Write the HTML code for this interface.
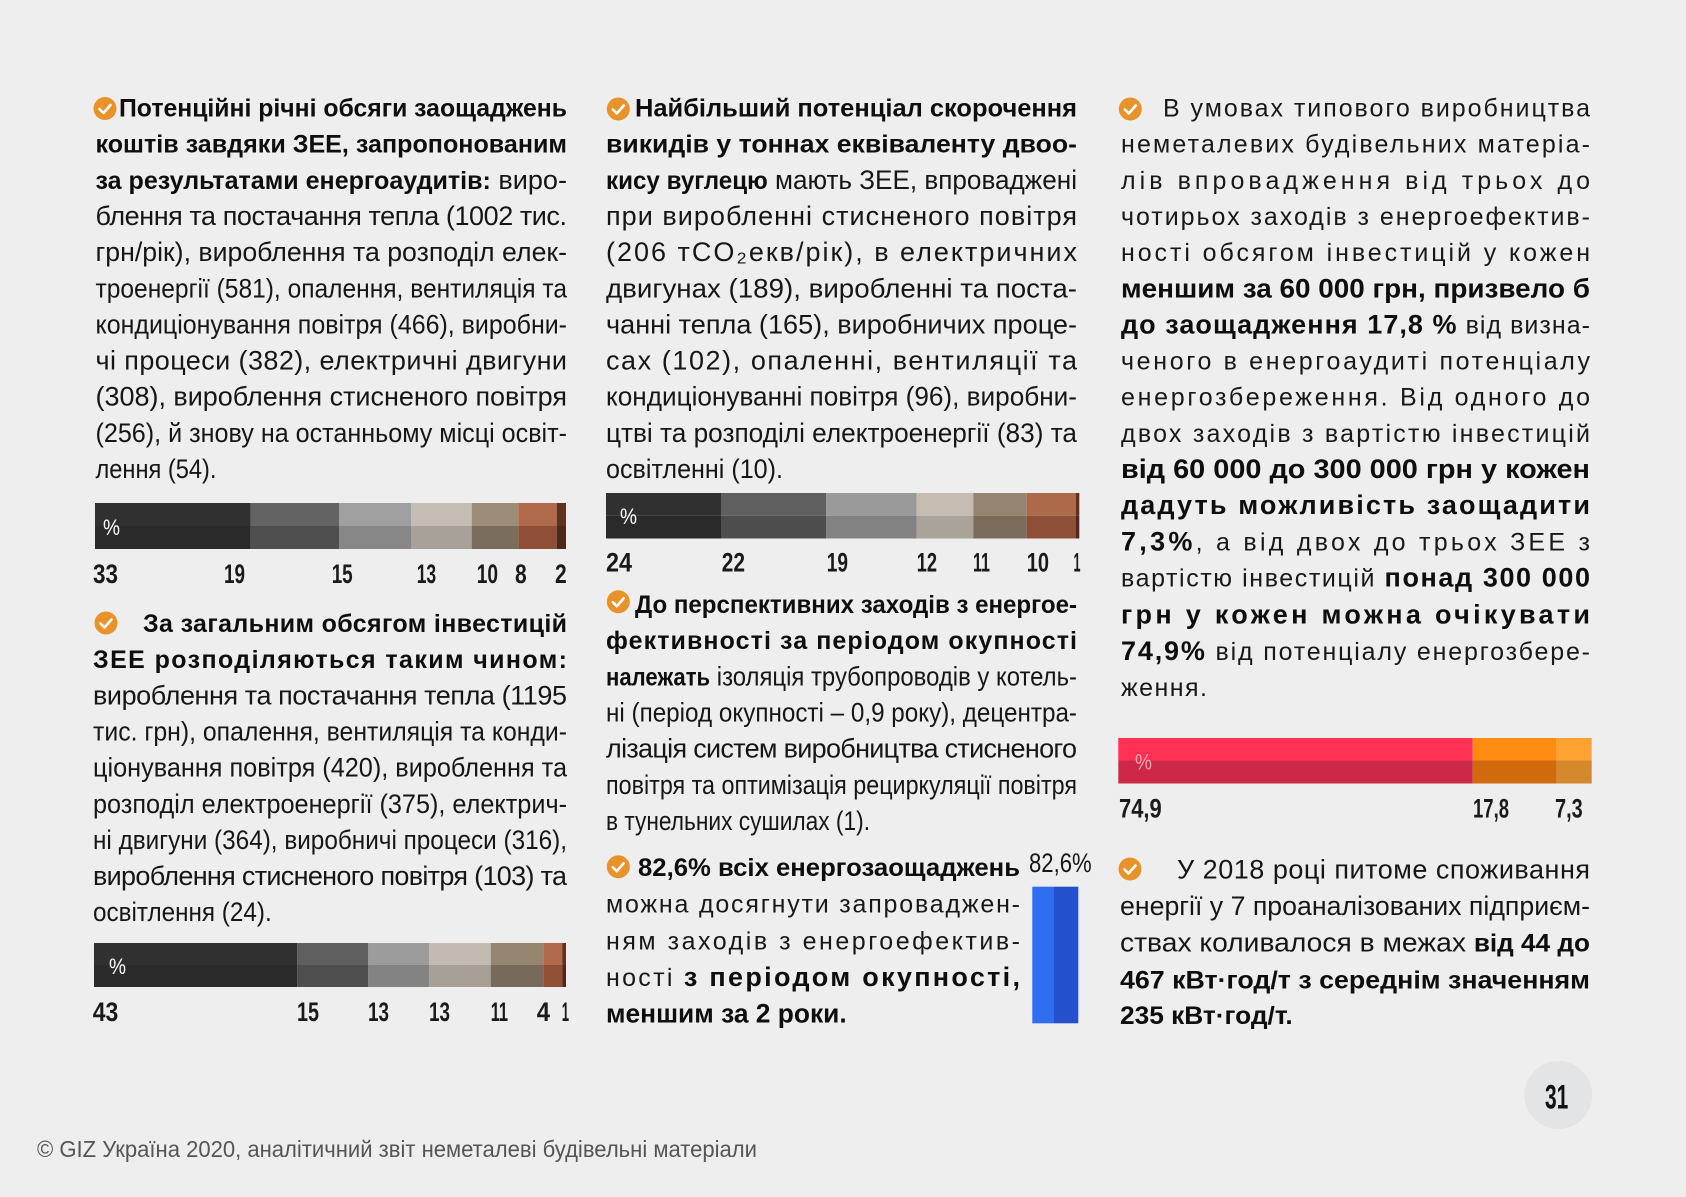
<!DOCTYPE html>
<html>
<head>
<meta charset="utf-8">
<style>
  html,body{margin:0;padding:0;background:#eeeeee;}
  svg{display:block;}
  text{font-family:"Liberation Sans",sans-serif;}
  .r{font-size:27px;fill:#161616;}
  .b{font-size:25px;font-weight:bold;fill:#0e0e0e;}
  .w{font-size:25px;fill:#181818;}
  .wb{font-size:27px;font-weight:bold;fill:#0e0e0e;}
  .lb{font-size:27px;font-weight:bold;fill:#1a1a1a;}
  .pc{font-size:22px;fill:#ffffff;}
  .ft{font-size:23px;fill:#555;}
</style>
</head>
<body>
<svg width="1686" height="1197" viewBox="0 0 1686 1197" xmlns="http://www.w3.org/2000/svg">
<rect x="0" y="0" width="1686" height="1197" fill="#eeeeee"/>

<defs>
  <g id="ic">
    <circle cx="0" cy="0" r="11.5" fill="#e8922a"/>
    <path d="M-5.5 0.5 L-1.5 4.5 L5.5 -3.5" fill="none" stroke="#ffffff" stroke-width="2.6" stroke-linecap="round" stroke-linejoin="round"/>
  </g>
</defs>

<!-- ============ COLUMN 1 ============ -->
<use href="#ic" x="105" y="108.5"/>
<text class="b" x="119" y="116.5" textLength="448" lengthAdjust="spacingAndGlyphs">Потенційні річні обсяги заощаджень</text>
<text class="b" x="95.5" y="152.65" textLength="471.5" lengthAdjust="spacingAndGlyphs">коштів завдяки ЗЕЕ, запропонованим</text>
<text class="r" x="95.5" y="188.8" textLength="471.5" lengthAdjust="spacingAndGlyphs"><tspan class="b">за результатами енергоаудитів:</tspan> виро-</text>
<text class="r" x="95.5" y="224.95" textLength="471.5" lengthAdjust="spacing">блення та постачання тепла (1002 тис.</text>
<text class="r" x="95.5" y="261.1" textLength="471.5" lengthAdjust="spacingAndGlyphs">грн/рік), вироблення та розподіл елек-</text>
<text class="r" x="95.5" y="297.25" textLength="471.5" lengthAdjust="spacingAndGlyphs">троенергії (581), опалення, вентиляція та</text>
<text class="r" x="95.5" y="333.4" textLength="471.5" lengthAdjust="spacingAndGlyphs">кондиціонування повітря (466), виробни-</text>
<text class="r" x="95.5" y="369.55" textLength="471.5" lengthAdjust="spacing">чі процеси (382), електричні двигуни</text>
<text class="r" x="95.5" y="405.7" textLength="471.5" lengthAdjust="spacing">(308), вироблення стисненого повітря</text>
<text class="r" x="95.5" y="441.85" textLength="471.5" lengthAdjust="spacingAndGlyphs">(256), й знову на останньому місці освіт-</text>
<text class="r" x="95.5" y="478" textLength="121" lengthAdjust="spacingAndGlyphs">лення (54).</text>

<!-- bar 1 -->
<g>
  <rect x="95" y="503" width="155.7" height="23" fill="#303030"/><rect x="95" y="526" width="155.7" height="23" fill="#2a2a2a"/>
  <rect x="250.7" y="503" width="88.6" height="23" fill="#636363"/><rect x="250.7" y="526" width="88.6" height="23" fill="#4f4f4f"/>
  <rect x="339.3" y="503" width="71.7" height="23" fill="#a0a0a0"/><rect x="339.3" y="526" width="71.7" height="23" fill="#878787"/>
  <rect x="411" y="503" width="60.7" height="23" fill="#c5bdb3"/><rect x="411" y="526" width="60.7" height="23" fill="#a8a19a"/>
  <rect x="471.7" y="503" width="46.6" height="23" fill="#9d8c78"/><rect x="471.7" y="526" width="46.6" height="23" fill="#7b6d5e"/>
  <rect x="518.3" y="503" width="38.4" height="23" fill="#b0694a"/><rect x="518.3" y="526" width="38.4" height="23" fill="#8e4f36"/>
  <rect x="556.7" y="503" width="9.3" height="23" fill="#5e3220"/><rect x="556.7" y="526" width="9.3" height="23" fill="#4e2818"/>
  <text class="pc" x="103" y="535" textLength="17" lengthAdjust="spacingAndGlyphs">%</text>
</g>
<text class="lb" x="93" y="583" textLength="25" lengthAdjust="spacingAndGlyphs">33</text>
<text class="lb" x="224" y="583" textLength="21" lengthAdjust="spacingAndGlyphs">19</text>
<text class="lb" x="331.7" y="583" textLength="21" lengthAdjust="spacingAndGlyphs">15</text>
<text class="lb" x="416.7" y="583" textLength="19.5" lengthAdjust="spacingAndGlyphs">13</text>
<text class="lb" x="476.7" y="583" textLength="21.3" lengthAdjust="spacingAndGlyphs">10</text>
<text class="lb" x="515" y="583" textLength="11.7" lengthAdjust="spacingAndGlyphs">8</text>
<text class="lb" x="555" y="583" textLength="11.7" lengthAdjust="spacingAndGlyphs">2</text>

<!-- section 2 col 1 -->
<use href="#ic" x="106" y="623"/>
<text class="b" x="143" y="632" textLength="424" lengthAdjust="spacing">За загальним обсягом інвестицій</text>
<text class="b" x="93" y="668.15" textLength="474" lengthAdjust="spacing">ЗЕЕ розподіляються таким чином:</text>
<text class="r" x="93" y="704.3" textLength="474" lengthAdjust="spacing">вироблення та постачання тепла (1195</text>
<text class="r" x="93" y="740.45" textLength="474" lengthAdjust="spacingAndGlyphs">тис. грн), опалення, вентиляція та конди-</text>
<text class="r" x="93" y="776.6" textLength="474" lengthAdjust="spacingAndGlyphs">ціонування повітря (420), вироблення та</text>
<text class="r" x="93" y="812.75" textLength="474" lengthAdjust="spacingAndGlyphs">розподіл електроенергії (375), електрич-</text>
<text class="r" x="93" y="848.9" textLength="474" lengthAdjust="spacingAndGlyphs">ні двигуни (364), виробничі процеси (316),</text>
<text class="r" x="93" y="885.05" textLength="474" lengthAdjust="spacing">вироблення стисненого повітря (103) та</text>
<text class="r" x="93" y="921.2" textLength="178.7" lengthAdjust="spacingAndGlyphs">освітлення (24).</text>

<!-- bar 2 -->
<g>
  <rect x="94" y="943" width="203.3" height="22" fill="#303030"/><rect x="94" y="965" width="203.3" height="22" fill="#2a2a2a"/>
  <rect x="297.3" y="943" width="71" height="22" fill="#5f5f5f"/><rect x="297.3" y="965" width="71" height="22" fill="#4e4e4e"/>
  <rect x="368.3" y="943" width="61" height="22" fill="#9c9c9c"/><rect x="368.3" y="965" width="61" height="22" fill="#838383"/>
  <rect x="429.3" y="943" width="61.4" height="22" fill="#c3bbb1"/><rect x="429.3" y="965" width="61.4" height="22" fill="#a7a097"/>
  <rect x="490.7" y="943" width="52.6" height="22" fill="#968571"/><rect x="490.7" y="965" width="52.6" height="22" fill="#786a5a"/>
  <rect x="543.3" y="943" width="19" height="22" fill="#b06a4a"/><rect x="543.3" y="965" width="19" height="22" fill="#8f5036"/>
  <rect x="562.3" y="943" width="3.7" height="22" fill="#5e3220"/><rect x="562.3" y="965" width="3.7" height="22" fill="#4e2818"/>
  <text class="pc" x="109" y="974" textLength="17" lengthAdjust="spacingAndGlyphs">%</text>
</g>
<text class="lb" x="92.7" y="1021" textLength="25.6" lengthAdjust="spacingAndGlyphs">43</text>
<text class="lb" x="297" y="1021" textLength="22" lengthAdjust="spacingAndGlyphs">15</text>
<text class="lb" x="368" y="1021" textLength="21" lengthAdjust="spacingAndGlyphs">13</text>
<text class="lb" x="429" y="1021" textLength="21" lengthAdjust="spacingAndGlyphs">13</text>
<text class="lb" x="490.7" y="1021" textLength="17.3" lengthAdjust="spacingAndGlyphs">11</text>
<text class="lb" x="536.7" y="1021" textLength="13.3" lengthAdjust="spacingAndGlyphs">4</text>
<text class="lb" x="561.7" y="1021" textLength="7.3" lengthAdjust="spacingAndGlyphs">1</text>

<!-- ============ COLUMN 2 ============ -->
<use href="#ic" x="618.3" y="109"/>
<text class="b" x="635" y="116.5" textLength="442" lengthAdjust="spacingAndGlyphs">Найбільший потенціал скорочення</text>
<text class="b" x="606" y="152.65" textLength="471" lengthAdjust="spacingAndGlyphs">викидів у тоннах еквіваленту двоо-</text>
<text class="r" x="606" y="188.8" textLength="471" lengthAdjust="spacingAndGlyphs"><tspan class="b">кису вуглецю</tspan> мають ЗЕЕ, впроваджені</text>
<text class="r" x="606" y="224.95" textLength="471" lengthAdjust="spacing">при виробленні стисненого повітря</text>
<text class="r" x="606" y="261.1" textLength="471" lengthAdjust="spacing">(206 тCO₂екв/рік), в електричних</text>
<text class="r" x="606" y="297.25" textLength="471" lengthAdjust="spacingAndGlyphs">двигунах (189), виробленні та поста-</text>
<text class="r" x="606" y="333.4" textLength="471" lengthAdjust="spacingAndGlyphs">чанні тепла (165), виробничих проце-</text>
<text class="r" x="606" y="369.55" textLength="471" lengthAdjust="spacing">сах (102), опаленні, вентиляції та</text>
<text class="r" x="606" y="405.7" textLength="471" lengthAdjust="spacingAndGlyphs">кондиціонуванні повітря (96), виробни-</text>
<text class="r" x="606" y="441.85" textLength="471" lengthAdjust="spacingAndGlyphs">цтві та розподілі електроенергії (83) та</text>
<text class="r" x="606" y="478" textLength="177" lengthAdjust="spacingAndGlyphs">освітленні (10).</text>

<!-- bar col2 -->
<g>
  <rect x="606" y="493" width="115" height="22.7" fill="#303030"/><rect x="606" y="515.7" width="115" height="22.8" fill="#2a2a2a"/>
  <rect x="721" y="493" width="105" height="22.7" fill="#5f5f5f"/><rect x="721" y="515.7" width="105" height="22.8" fill="#4d4d4d"/>
  <rect x="826" y="493" width="90.7" height="22.7" fill="#9a9a9a"/><rect x="826" y="515.7" width="90.7" height="22.8" fill="#828282"/>
  <rect x="916.7" y="493" width="56.6" height="22.7" fill="#c5bdb2"/><rect x="916.7" y="515.7" width="56.6" height="22.8" fill="#aaa399"/>
  <rect x="973.3" y="493" width="53.4" height="22.7" fill="#958470"/><rect x="973.3" y="515.7" width="53.4" height="22.8" fill="#7a6b5a"/>
  <rect x="1026.7" y="493" width="49.3" height="22.7" fill="#ad6a4b"/><rect x="1026.7" y="515.7" width="49.3" height="22.8" fill="#8d5036"/>
  <rect x="1076" y="493" width="3.3" height="22.7" fill="#5e3220"/><rect x="1076" y="515.7" width="3.3" height="22.8" fill="#4e2818"/>
  <text class="pc" x="620" y="524" textLength="17" lengthAdjust="spacingAndGlyphs">%</text>
</g>
<text class="lb" x="606" y="571.7" textLength="26" lengthAdjust="spacingAndGlyphs">24</text>
<text class="lb" x="721.7" y="571.7" textLength="23.3" lengthAdjust="spacingAndGlyphs">22</text>
<text class="lb" x="826.7" y="571.7" textLength="21.3" lengthAdjust="spacingAndGlyphs">19</text>
<text class="lb" x="916.7" y="571.7" textLength="20.3" lengthAdjust="spacingAndGlyphs">12</text>
<text class="lb" x="973" y="571.7" textLength="17" lengthAdjust="spacingAndGlyphs">11</text>
<text class="lb" x="1026.7" y="571.7" textLength="22.3" lengthAdjust="spacingAndGlyphs">10</text>
<text class="lb" x="1073.5" y="571.7" textLength="7" lengthAdjust="spacingAndGlyphs">1</text>

<!-- section 3 col 2 -->
<use href="#ic" x="618.3" y="601.7"/>
<text class="b" x="635" y="613" textLength="442" lengthAdjust="spacingAndGlyphs">До перспективних заходів з енергое-</text>
<text class="b" x="606" y="649.15" textLength="471" lengthAdjust="spacing">фективності за періодом окупності</text>
<text class="r" x="606" y="685.3" textLength="471" lengthAdjust="spacingAndGlyphs"><tspan class="b">належать</tspan> ізоляція трубопроводів у котель-</text>
<text class="r" x="606" y="721.45" textLength="471" lengthAdjust="spacingAndGlyphs">ні (період окупності – 0,9 року), децентра-</text>
<text class="r" x="606" y="757.6" textLength="471" lengthAdjust="spacing">лізація систем виробництва стисненого</text>
<text class="r" x="606" y="793.75" textLength="471" lengthAdjust="spacingAndGlyphs">повітря та оптимізація рециркуляції повітря</text>
<text class="r" x="606" y="829.9" textLength="264" lengthAdjust="spacingAndGlyphs">в тунельних сушилах (1).</text>

<!-- section 4 col 2 -->
<use href="#ic" x="618.3" y="866.7"/>
<text class="b" x="638" y="876" textLength="382" lengthAdjust="spacingAndGlyphs">82,6% всіх енергозаощаджень</text>
<text class="r" x="1029" y="872" textLength="62.7" lengthAdjust="spacingAndGlyphs">82,6%</text>
<text class="w" x="606" y="912.7" textLength="414" lengthAdjust="spacing">можна досягнути запроваджен-</text>
<text class="w" x="606" y="949.5" textLength="414" lengthAdjust="spacing">ням заходів з енергоефектив-</text>
<text class="w" x="606" y="986" textLength="414" lengthAdjust="spacing">ності <tspan class="wb">з періодом окупності,</tspan></text>
<text class="wb" x="606" y="1022.5" textLength="240.7" lengthAdjust="spacingAndGlyphs">меншим за 2 роки.</text>
<rect x="1032.3" y="886.7" width="21.7" height="136.6" fill="#2e6cf0"/>
<rect x="1054" y="886.7" width="24.3" height="136.6" fill="#2450cc"/>

<!-- ============ COLUMN 3 ============ -->
<use href="#ic" x="1130.3" y="109"/>
<text class="w" x="1163" y="116.5" textLength="427" lengthAdjust="spacing">В умовах типового виробництва</text>
<text class="w" x="1121" y="152.65" textLength="469" lengthAdjust="spacing">неметалевих будівельних матеріа-</text>
<text class="w" x="1121" y="188.8" textLength="469" lengthAdjust="spacing">лів впровадження від трьох до</text>
<text class="w" x="1121" y="224.95" textLength="469" lengthAdjust="spacing">чотирьох заходів з енергоефектив-</text>
<text class="w" x="1121" y="261.1" textLength="469" lengthAdjust="spacing">ності обсягом інвестицій у кожен</text>
<text class="wb" x="1121" y="297.25" textLength="469" lengthAdjust="spacingAndGlyphs">меншим за 60 000 грн, призвело б</text>
<text class="w" x="1121" y="333.4" textLength="469" lengthAdjust="spacing"><tspan class="wb">до заощадження 17,8 %</tspan> від визна-</text>
<text class="w" x="1121" y="369.55" textLength="469" lengthAdjust="spacing">ченого в енергоаудиті потенціалу</text>
<text class="w" x="1121" y="405.7" textLength="469" lengthAdjust="spacing">енергозбереження. Від одного до</text>
<text class="w" x="1121" y="441.85" textLength="469" lengthAdjust="spacing">двох заходів з вартістю інвестицій</text>
<text class="wb" x="1121" y="478" textLength="469" lengthAdjust="spacingAndGlyphs">від 60 000 до 300 000 грн у кожен</text>
<text class="wb" x="1121" y="514.15" textLength="469" lengthAdjust="spacing">дадуть можливість заощадити</text>
<text class="w" x="1121" y="550.3" textLength="469" lengthAdjust="spacing"><tspan class="wb">7,3%</tspan>, а від двох до трьох ЗЕЕ з</text>
<text class="w" x="1121" y="586.45" textLength="469" lengthAdjust="spacing">вартістю інвестицій <tspan class="wb">понад 300 000</tspan></text>
<text class="wb" x="1121" y="623.6" textLength="469" lengthAdjust="spacing">грн у кожен можна очікувати</text>
<text class="w" x="1121" y="659.75" textLength="469" lengthAdjust="spacing"><tspan class="wb">74,9%</tspan> від потенціалу енергозбере-</text>
<text class="w" x="1121" y="695.9" textLength="86" lengthAdjust="spacing">ження.</text>

<!-- red bar -->
<g>
  <rect x="1118.3" y="738" width="354.4" height="22.5" fill="#fe3155"/><rect x="1118.3" y="760.5" width="354.4" height="23" fill="#cd2946"/>
  <rect x="1472.7" y="738" width="84" height="22.5" fill="#ff8b12"/><rect x="1472.7" y="760.5" width="84" height="23" fill="#d06a0c"/>
  <rect x="1556.7" y="738" width="35" height="22.5" fill="#ffa232"/><rect x="1556.7" y="760.5" width="35" height="23" fill="#d4892c"/>
  <text class="pc" x="1135" y="769.5" textLength="17" lengthAdjust="spacingAndGlyphs" style="fill:#f4a3b3">%</text>
</g>
<text class="lb" x="1119" y="817.7" textLength="42.7" lengthAdjust="spacingAndGlyphs">74,9</text>
<text class="lb" x="1473" y="817.7" textLength="36" lengthAdjust="spacingAndGlyphs">17,8</text>
<text class="lb" x="1555" y="817.7" textLength="27.7" lengthAdjust="spacingAndGlyphs">7,3</text>

<!-- bottom section col 3 -->
<use href="#ic" x="1130" y="869"/>
<text class="r" x="1177" y="878.3" textLength="413" lengthAdjust="spacing">У 2018 році питоме споживання</text>
<text class="r" x="1120" y="915" textLength="470" lengthAdjust="spacingAndGlyphs">енергії у 7 проаналізованих підприєм-</text>
<text class="r" x="1120" y="951.7" textLength="470" lengthAdjust="spacingAndGlyphs">ствах коливалося в межах <tspan class="b">від 44 до</tspan></text>
<text class="b" x="1120" y="988.3" textLength="470" lengthAdjust="spacingAndGlyphs">467 кВт·год/т з середнім значенням</text>
<text class="b" x="1120" y="1024" textLength="172.7" lengthAdjust="spacingAndGlyphs">235 кВт·год/т.</text>

<!-- ============ FOOTER ============ -->
<text class="ft" x="37" y="1157" textLength="720" lengthAdjust="spacingAndGlyphs">© GIZ Україна 2020, аналітичний звіт неметалеві будівельні матеріали</text>
<circle cx="1558.3" cy="1095" r="34" fill="#e2e4e6"/>
<text x="1545" y="1108.3" textLength="23.3" lengthAdjust="spacingAndGlyphs" style="font-size:34px;font-weight:bold;fill:#111;">31</text>
</svg>
</body>
</html>
